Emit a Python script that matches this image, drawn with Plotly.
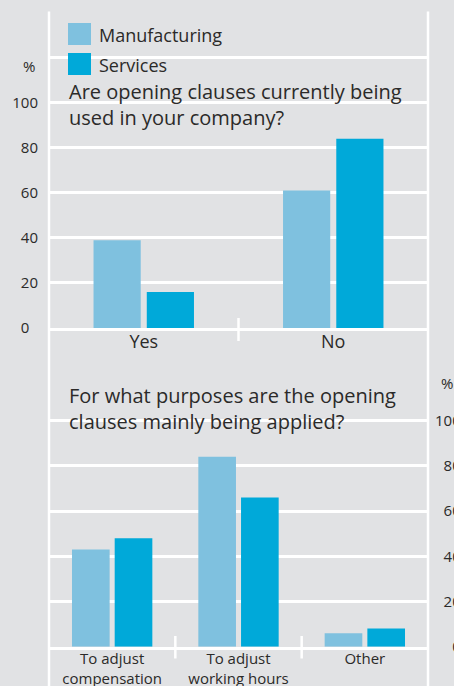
import plotly.graph_objects as go

# ---------------- data ----------------
q1_categories = ["Yes", "No"]
q1_manufacturing = [39, 61]
q1_services = [16, 84]

q2_categories = ["To adjust<br>compensation", "To adjust<br>working hours", "Other"]
q2_manufacturing = [43, 84, 6]
q2_services = [48, 66, 8]

series_names = ["Manufacturing", "Services"]
q1_title = "Are opening clauses currently being<br>used in your company?"
q2_title = "For what purposes are the opening<br>clauses mainly being applied?"

q1_ticks = [0, 20, 40, 60, 80, 100, 120, 140]
q1_ticktext = ["0\u2007", "20", "40", "60", "80", "100", "", ""]
q2_ticks = [0, 20, 40, 60, 80, 100, 120]
q2_ticktext = ["\u2007\u20070", "\u200720", "\u200740", "\u200760", "\u200780", "100", ""]

# ---------------- style ----------------
W, H = 454, 686
ML, MR = 49, 26
BG = "#e1e2e4"
C_MAN = "#7fc1df"
C_SER = "#00a9d9"
TXT = "#2b2a29"
FONT = "Open Sans"


def px_x(x):
    return (x - ML) / (W - ML - MR)


def px_y(y):
    return 1 - y / H


fig = go.Figure()

fig.add_trace(go.Bar(x=q1_categories, y=q1_manufacturing, name=series_names[0],
                     marker=dict(color=C_MAN, line=dict(width=0)),
                     offset=-0.265, width=0.249, xaxis="x", yaxis="y", showlegend=False))
fig.add_trace(go.Bar(x=q1_categories, y=q1_services, name=series_names[1],
                     marker=dict(color=C_SER, line=dict(width=0)),
                     offset=0.016, width=0.249, xaxis="x", yaxis="y", showlegend=False))
fig.add_trace(go.Bar(x=q2_categories, y=q2_manufacturing, name=series_names[0],
                     marker=dict(color=C_MAN, line=dict(width=0)),
                     offset=-0.318, width=0.298, xaxis="x2", yaxis="y2", showlegend=False))
fig.add_trace(go.Bar(x=q2_categories, y=q2_services, name=series_names[1],
                     marker=dict(color=C_SER, line=dict(width=0)),
                     offset=0.020, width=0.298, xaxis="x2", yaxis="y2", showlegend=False))

axis_common = dict(showgrid=True, gridcolor="white", gridwidth=2.5, zeroline=False,
                   automargin=False, ticks="", tickfont=dict(family=FONT, size=15, color=TXT))

fig.update_layout(
    width=W, height=H,
    margin=dict(l=ML, r=MR, t=0, b=0, pad=0, autoexpand=False),
    paper_bgcolor=BG, plot_bgcolor=BG,
    barmode="overlay",
    showlegend=False,
    font=dict(family=FONT, color=TXT),
    xaxis=dict(domain=[0, 1], anchor="y", showgrid=False, showline=True, linecolor="white",
               linewidth=2.5, ticks="", automargin=False,
               tickfont=dict(family=FONT, size=18, color=TXT),
               ticklabelstandoff=-4, range=[-0.5, 1.5]),
    yaxis=dict(domain=[px_y(328), px_y(12.6)], anchor="x", range=[0, 140],
               tickvals=q1_ticks, ticktext=q1_ticktext, ticklabelstandoff=10, **axis_common),
    xaxis2=dict(domain=[0, 1], anchor="y2", showgrid=False, showline=True, linecolor="white",
                linewidth=2.5, ticks="", automargin=False,
                tickfont=dict(family=FONT, size=15, color=TXT),
                ticklabelstandoff=-3, range=[-0.5, 2.5]),
    yaxis2=dict(domain=[px_y(646.7), px_y(375.5)], anchor="x2", range=[0, 120],
                side="right", tickvals=q2_ticks, ticktext=q2_ticktext, ticklabelstandoff=6,
                **axis_common),
)

shapes = []
# frame verticals
for xv in (0, 1):
    shapes.append(dict(type="line", xref="paper", yref="paper", x0=xv, x1=xv,
                       y0=0, y1=px_y(11.4), line=dict(color="white", width=2.5), layer="between"))
# category separators
for i in range(1, len(q1_categories)):
    shapes.append(dict(type="line", xref="x", yref="paper", x0=i - 0.5, x1=i - 0.5,
                       y0=px_y(318), y1=px_y(341), line=dict(color="white", width=2.5)))
for i in range(1, len(q2_categories)):
    shapes.append(dict(type="line", xref="x2", yref="paper", x0=i - 0.5, x1=i - 0.5,
                       y0=px_y(636), y1=px_y(658.5), line=dict(color="white", width=2.5)))
# text backgrounds that interrupt the gridlines (legend row, title lines)
for x0, x1, y0, y1 in [(62, 172, 50, 78), (62, 409, 96, 110), (61, 352, 414, 428)]:
    shapes.append(dict(type="rect", xref="paper", yref="paper", x0=px_x(x0), x1=px_x(x1),
                       y0=px_y(y1), y1=px_y(y0), fillcolor=BG, line=dict(width=0),
                       layer="between"))
# legend swatches
for j, col in enumerate([C_MAN, C_SER]):
    top = 23 + 30 * j
    shapes.append(dict(type="rect", xref="paper", yref="paper", x0=px_x(68), x1=px_x(91),
                       y0=px_y(top + 22), y1=px_y(top), fillcolor=col, line=dict(width=0),
                       layer="above"))
fig.update_layout(shapes=shapes)

ann = []
for text, yc in [(q1_title, 104.5), (q2_title, 408)]:
    ann.append(dict(text=text, xref="paper", yref="paper", x=px_x(63), y=px_y(yc),
                    xanchor="left", yanchor="middle", align="left", showarrow=False,
                    borderpad=5, font=dict(family=FONT, size=20, color=TXT)))
for j, name in enumerate(series_names):
    ann.append(dict(text=name, xref="paper", yref="paper", x=px_x(97), y=px_y(35 + 30 * j),
                    xanchor="left", yanchor="middle", showarrow=False,
                    font=dict(family=FONT, size=18, color=TXT)))
# unit labels
ann.append(dict(text="%", xref="paper", yref="paper", x=px_x(37), y=px_y(66),
                xanchor="right", yanchor="middle", showarrow=False,
                font=dict(family=FONT, size=15, color=TXT)))
ann.append(dict(text="%", xref="paper", yref="paper", x=px_x(439), y=px_y(383),
                xanchor="left", yanchor="middle", showarrow=False,
                font=dict(family=FONT, size=15, color=TXT)))
fig.update_layout(annotations=ann)

fig.write_html("out.html")
